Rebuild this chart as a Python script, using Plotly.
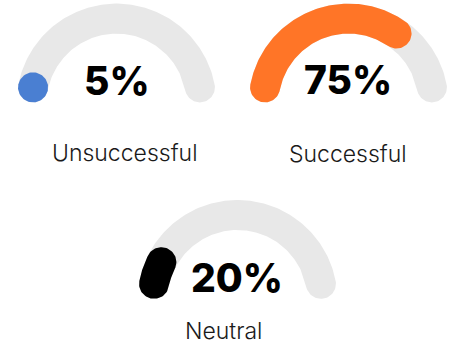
import numpy as np
import plotly.graph_objects as go

# Outcome shares shown on the three gauges
labels = ["Unsuccessful", "Successful", "Neutral"]
values = [5, 75, 20]
colors = ["#4a7fd2", "#ff7527", "#000000"]
track_color = "#e8e8e8"

# Gauge geometry (pixel units; y grows downward)
centers = [(116.5, 103.6), (348.5, 103.6), (237.5, 300.0)]
value_pos = [(116.5, 80.0), (348.3, 79.5), (236.5, 277.0)]
label_pos = [(124.7, 153.0), (348.3, 154.0), (223.7, 331.0)]
R = 85.0          # centerline radius
W = 30.0          # stroke width
A_START = 169.0   # degrees, left end of the track
A_END = 11.0      # degrees, right end of the track


def capsule_arc(cx, cy, a_start, a_end, n=120):
    """Polygon of a thick arc with round caps, from a_start down to a_end (deg)."""
    h = W / 2
    a = np.radians(np.linspace(a_start, a_end, n))
    xs, ys = [], []
    # outer edge
    xs += list(cx + (R + h) * np.cos(a))
    ys += list(cy - (R + h) * np.sin(a))
    # end cap
    ae = np.radians(a_end)
    ex, ey = cx + R * np.cos(ae), cy - R * np.sin(ae)
    u = np.array([np.cos(ae), -np.sin(ae)])
    t = np.array([np.sin(ae), np.cos(ae)])
    phi = np.linspace(0, np.pi, 40)
    xs += list(ex + h * (u[0] * np.cos(phi) + t[0] * np.sin(phi)))
    ys += list(ey + h * (u[1] * np.cos(phi) + t[1] * np.sin(phi)))
    # inner edge
    xs += list(cx + (R - h) * np.cos(a[::-1]))
    ys += list(cy - (R - h) * np.sin(a[::-1]))
    # start cap
    as_ = np.radians(a_start)
    sx, sy = cx + R * np.cos(as_), cy - R * np.sin(as_)
    u = np.array([np.cos(as_), -np.sin(as_)])
    t = np.array([np.sin(as_), np.cos(as_)])
    xs += list(sx + h * (-u[0] * np.cos(phi) - t[0] * np.sin(phi)))
    ys += list(sy + h * (-u[1] * np.cos(phi) - t[1] * np.sin(phi)))
    xs.append(xs[0])
    ys.append(ys[0])
    return xs, ys


fig = go.Figure()

span = A_START - A_END
track_len = R * np.radians(span) + W   # full length including caps

for (cx, cy), v, c in zip(centers, values, colors):
    # grey track
    x, y = capsule_arc(cx, cy, A_START, A_END)
    fig.add_trace(go.Scatter(x=x, y=y, fill="toself", fillcolor=track_color,
                             mode="lines", line=dict(width=0), hoverinfo="skip"))
    # value arc: its total length (caps included) is the share of the track
    body = max(0.0, v / 100 * track_len - W)
    a_val = A_START - np.degrees(body / R)
    x, y = capsule_arc(cx, cy, A_START, a_val)
    fig.add_trace(go.Scatter(x=x, y=y, fill="toself", fillcolor=c,
                             mode="lines", line=dict(width=0), hoverinfo="skip"))

for (px, py), v in zip(value_pos, values):
    fig.add_annotation(x=px, y=py, text=f"{v}%", showarrow=False,
                       xanchor="center", yanchor="middle",
                       font=dict(family="Inter", size=39, color="#000000", weight=800))

for (lx, ly), lab in zip(label_pos, labels):
    fig.add_annotation(x=lx, y=ly, text=lab, showarrow=False,
                       xanchor="center", yanchor="middle",
                       font=dict(family="Inter", size=23, color="#1a1a1a", weight=300))

fig.update_layout(
    width=462, height=349,
    margin=dict(l=0, r=0, t=0, b=0),
    paper_bgcolor="white", plot_bgcolor="white",
    showlegend=False,
    xaxis=dict(range=[0, 462], visible=False, fixedrange=True),
    yaxis=dict(range=[349, 0], visible=False, fixedrange=True),
)

fig.write_html("out.html")
